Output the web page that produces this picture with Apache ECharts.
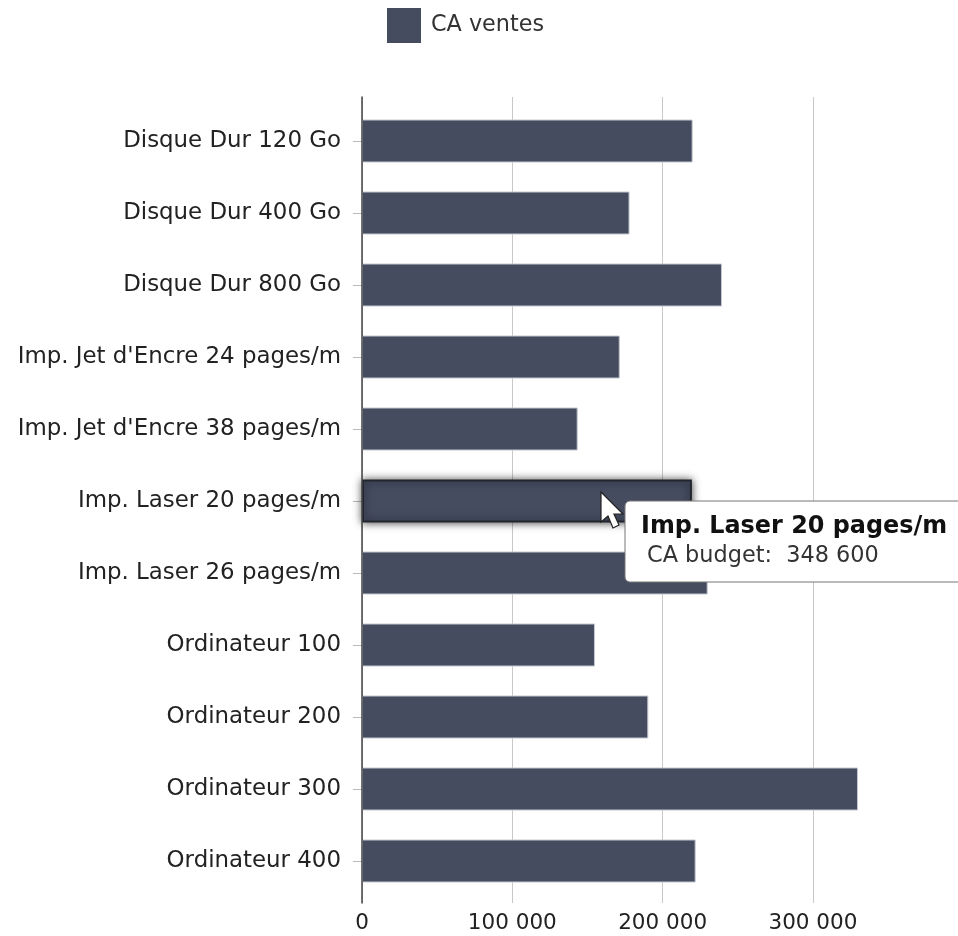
<!DOCTYPE html>
<html><head><meta charset="utf-8">
<style>html,body{margin:0;padding:0;background:#fff}#c{width:958px;height:936px}</style>
<script src="https://cdn.jsdelivr.net/npm/echarts@6/dist/echarts.min.js"></script>
</head><body><div id="c"></div>
<script>
const categories = ["Disque Dur 120 Go","Disque Dur 400 Go","Disque Dur 800 Go","Imp. Jet d'Encre 24 pages/m","Imp. Jet d'Encre 38 pages/m","Imp. Laser 20 pages/m","Imp. Laser 26 pages/m","Ordinateur 100","Ordinateur 200","Ordinateur 300","Ordinateur 400"];
const ventes = [220000,178000,239500,171500,143500,219500,230000,155000,190500,330000,222000];
const highlightedIndex = 5;
const seriesName = "CA ventes";
const tooltipTitle = "Imp. Laser 20 pages/m";
const tooltipBody = "CA budget:  348 600";
const FONT = "'DejaVu Sans', Verdana, sans-serif";
const BAR = "#454c60";
const fmt = v => v === 0 ? "0" : String(v).replace(/\B(?=(\d{3})+$)/g, " ");
const chart = echarts.init(document.getElementById('c'), null, {renderer:'canvas'});
const L = 362, W = 596, XMAX = W / 150.3 * 100000;
chart.setOption({
  animation:false,
  backgroundColor:'#fff',
  legend:{left:382,top:3,itemWidth:34,itemHeight:35,itemGap:10,icon:'rect',
    itemStyle:{borderWidth:0},
    textStyle:{fontFamily:FONT,fontSize:22.3,color:'#333',padding:[0,0,6,5]},data:[seriesName]},
  grid:[
    {left:L,top:97,width:W,height:806},
    {left:L,top:105,width:W,height:792}
  ],
  xAxis:[
    {gridIndex:0,type:'value',min:0,max:XMAX,interval:100000,
     axisLine:{show:false},axisTick:{show:false},
     splitLine:{show:true,lineStyle:{color:'#c8c8c8',width:1}},
     axisLabel:{fontFamily:FONT,fontSize:21.5,color:'#222',margin:9,formatter:fmt,showMaxLabel:false}},
    {gridIndex:1,type:'value',min:0,max:XMAX,show:false}
  ],
  yAxis:[
    {gridIndex:0,type:'value',min:0,max:1,z:10,
     axisLine:{show:true,onZero:false,lineStyle:{color:'#444',width:1.5}},axisTick:{show:false},axisLabel:{show:false},splitLine:{show:false}},
    {gridIndex:1,type:'category',inverse:true,data:categories,
     axisLine:{show:false},
     axisTick:{show:true,length:9,alignWithLabel:true,lineStyle:{color:'#bbb'}},
     axisLabel:{fontFamily:FONT,fontSize:22.9,color:'#222',margin:21,interval:0}}
  ],
  series:[{
    name:seriesName,type:'bar',xAxisIndex:1,yAxisIndex:1,barWidth:43,
    itemStyle:{color:BAR,borderColor:'#c5c7cf',borderWidth:1},
    data:ventes.map((v,i)=> i===highlightedIndex ? {value:v,itemStyle:{color:BAR,borderColor:'#23262f',borderWidth:2,shadowColor:'rgba(0,0,0,0.7)',shadowBlur:8}} : v)
  }],
  graphic:[
    {type:'rect',z:100,shape:{x:625,y:501,width:345,height:81,r:5},
     style:{fill:'#fff',stroke:'#777',lineWidth:1}},
    {type:'text',z:101,style:{x:641,y:527,verticalAlign:'middle',text:tooltipTitle,fontFamily:FONT,fontSize:23.9,fontWeight:'bold',fill:'#111'}},
    {type:'text',z:101,style:{x:647,y:556,verticalAlign:'middle',text:tooltipBody,fontFamily:FONT,fontSize:22.4,fill:'#333'}},
    {type:'polygon',z:102,shape:{points:[[601,492],[601,522],[608,516],[613,528],[619,525],[614,514],[623,514]]},
     style:{fill:'#fff',stroke:'#222',lineWidth:1.2}}
  ]
});
</script></body></html>
